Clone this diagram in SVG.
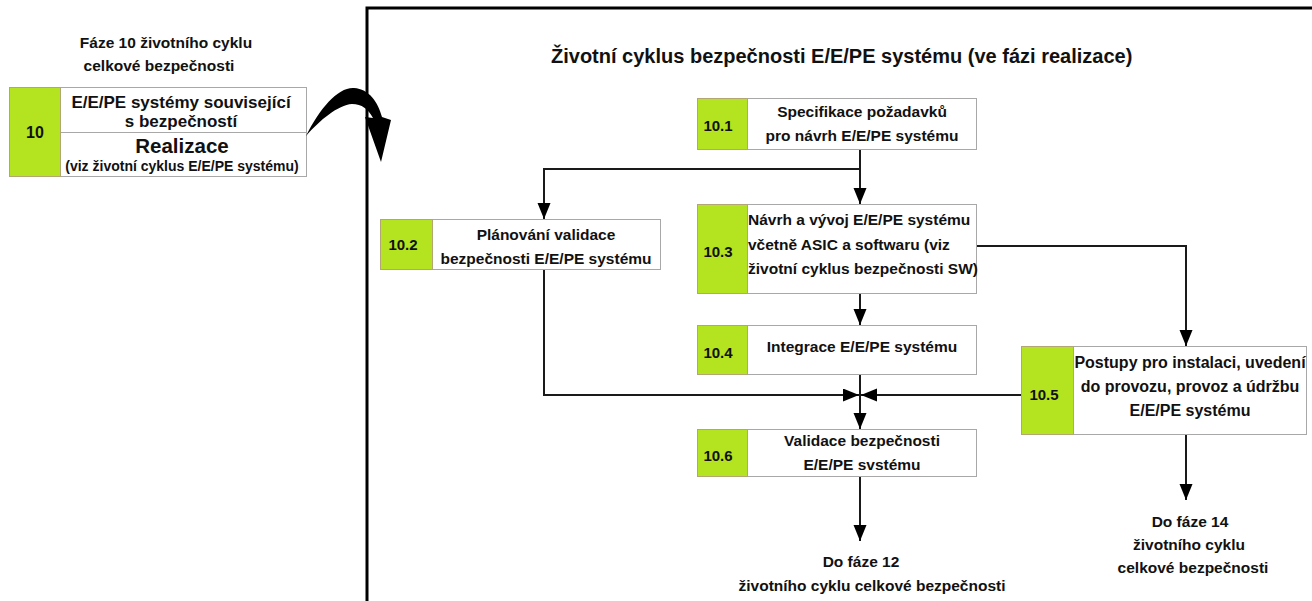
<svg xmlns="http://www.w3.org/2000/svg" width="1312" height="601" viewBox="0 0 1312 601">
  <defs>
    <marker id="arrow" markerUnits="userSpaceOnUse" markerWidth="16" markerHeight="14" viewBox="0 0 16 14" refX="16" refY="6.5" orient="auto">
      <path d="M0,0 L16,6.5 L0,13 Z" fill="#000"/>
    </marker>
    <style>
      text { font-family: "Liberation Sans", Arial, sans-serif; font-weight: bold; fill: #111; }
      .lbl { font-size: 15.5px; text-anchor: middle; }
      .lft { font-size: 15.5px; text-anchor: start; }
      .num { font-size: 15px; text-anchor: middle; }
      .box { fill: #fff; stroke: #a8a8a8; stroke-width: 1; }
      .tag { fill: #b4e31f; stroke: #b3a574; stroke-width: 1; }
      .wire { fill: none; stroke: #1a1a1a; stroke-width: 2; }
      .arr { marker-end: url(#arrow); }
    </style>
  </defs>

  <rect width="1312" height="601" fill="#fff"/>

  <!-- Overall phase 10 block -->
  <g id="phase10">
    <text class="lbl" x="166" y="48">Fáze 10 životního cyklu</text>
    <text class="lbl" x="159" y="71">celkové bezpečnosti</text>
    <rect class="box" x="9.5" y="87.5" width="297" height="89"/>
    <line x1="60" y1="132.5" x2="306" y2="132.5" stroke="#a8a8a8" stroke-width="1"/>
    <rect class="tag" x="9.5" y="87.5" width="51" height="89"/>
    <text class="num" x="35" y="138" style="font-size:16px">10</text>
    <text class="lbl" x="181" y="108" style="font-size:17px">E/E/PE systémy související</text>
    <text class="lbl" x="181" y="127" style="font-size:17px">s bezpečností</text>
    <text class="lbl" x="182" y="153" style="font-size:20.5px">Realizace</text>
    <text class="lbl" x="182" y="171" style="font-size:14px">(viz životní cyklus E/E/PE systému)</text>
  </g>

  <!-- Curved pointer into the detailed lifecycle -->
  <path id="pointer" d="M306,136 C320,108 338,87 354,88 C369,89 378,102 382,117 L391,120 L381,162 L365,117 L373,118 C368,109 362,104 352,104 C338,105 320,120 306,136 Z" fill="#000"/>

  <!-- Frame of the detailed lifecycle -->
  <g id="frame">
    <path d="M367,601 L367,8 L1312,8" fill="none" stroke="#000" stroke-width="3"/>
    <text x="551" y="63" style="font-size:20px">Životní cyklus bezpečnosti E/E/PE systému (ve fázi realizace)</text>
  </g>

  <!-- Connectors -->
  <g id="connectors">
    <path class="wire arr" d="M860,150 L860,204"/>
    <path class="wire arr" d="M860,169 L544,169 L544,219"/>
    <path class="wire arr" d="M860,293 L860,325"/>
    <path class="wire arr" d="M976,246 L1186,246 L1186,346"/>
    <path class="wire arr" d="M544,269 L544,395 L859,395"/>
    <path class="wire arr" d="M1021,395 L861,395"/>
    <path class="wire arr" d="M860,374 L860,429"/>
    <path class="wire arr" d="M860,477 L860,541"/>
    <path class="wire arr" d="M1186,434 L1186,500"/>
  </g>

  <g id="n10_1">
    <rect class="box" x="697.5" y="98.5" width="279" height="51"/>
    <rect class="tag" x="697.5" y="98.5" width="50" height="51"/>
    <text class="num" x="718" y="131">10.1</text>
    <text class="lbl" x="862" y="117">Specifikace požadavků</text>
    <text class="lbl" x="862" y="141">pro návrh E/E/PE systému</text>
  </g>

  <g id="n10_2">
    <rect class="box" x="380.5" y="219.5" width="280" height="50"/>
    <rect class="tag" x="380.5" y="219.5" width="52" height="50"/>
    <text class="num" x="403" y="250">10.2</text>
    <text class="lbl" x="546" y="240">Plánování validace</text>
    <text class="lbl" x="546" y="264">bezpečnosti E/E/PE systému</text>
  </g>

  <g id="n10_3">
    <rect class="box" x="697.5" y="204.5" width="279" height="89"/>
    <rect class="tag" x="697.5" y="204.5" width="50" height="89"/>
    <text class="num" x="718" y="257">10.3</text>
    <text class="lft" x="748" y="225">Návrh a vývoj E/E/PE systému</text>
    <text class="lft" x="748" y="250">včetně ASIC a softwaru (viz</text>
    <text class="lft" x="748" y="274">životní cyklus bezpečnosti SW)</text>
  </g>

  <g id="n10_4">
    <rect class="box" x="697.5" y="325.5" width="279" height="49"/>
    <rect class="tag" x="697.5" y="325.5" width="50" height="49"/>
    <text class="num" x="718" y="358">10.4</text>
    <text class="lbl" x="862" y="352">Integrace E/E/PE systému</text>
  </g>

  <g id="n10_5">
    <rect class="box" x="1021.5" y="346.5" width="285" height="88"/>
    <rect class="tag" x="1021.5" y="346.5" width="52" height="88"/>
    <text class="num" x="1044" y="400">10.5</text>
    <text class="lbl" x="1190" y="368" style="font-size:16px">Postupy pro instalaci, uvedení</text>
    <text class="lbl" x="1190" y="392" style="font-size:16px">do provozu, provoz a údržbu</text>
    <text class="lbl" x="1190" y="416" style="font-size:16px">E/E/PE systému</text>
  </g>

  <g id="n10_6">
    <rect class="box" x="697.5" y="429.5" width="279" height="47"/>
    <rect class="tag" x="697.5" y="429.5" width="50" height="47"/>
    <text class="num" x="718" y="461">10.6</text>
    <text class="lbl" x="862" y="446">Validace bezpečnosti</text>
    <text class="lbl" x="862" y="470">E/E/PE svstému</text>
  </g>

  <g id="out12">
    <text class="lbl" x="861" y="567">Do fáze 12</text>
    <text class="lbl" x="872" y="591">životního cyklu celkové bezpečnosti</text>
  </g>

  <g id="out14">
    <text class="lbl" x="1190" y="527">Do fáze 14</text>
    <text class="lbl" x="1189" y="550">životního cyklu</text>
    <text class="lbl" x="1193" y="573">celkové bezpečnosti</text>
  </g>
</svg>
